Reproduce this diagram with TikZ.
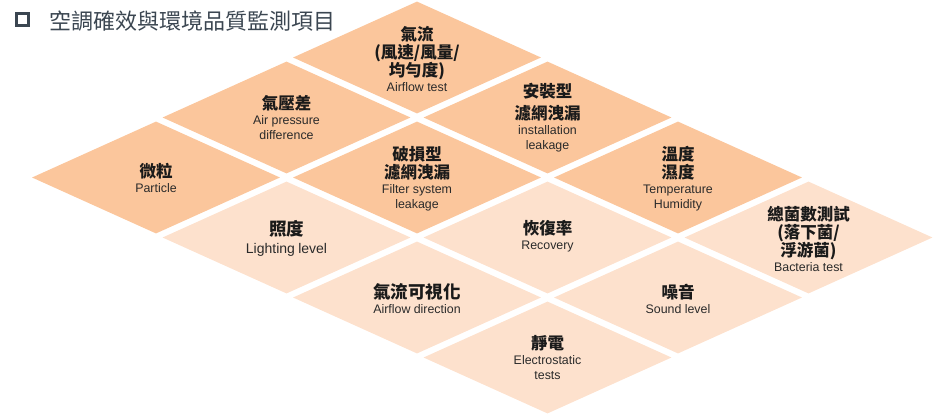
\documentclass[tikz,border=0pt]{standalone}
\usepackage{fontspec}
\setmainfont{Liberation Sans}
\newfontfamily\cjkf{Noto Sans CJK TC}
\definecolor{peachdark}{HTML}{FBC69C}
\definecolor{peachlight}{HTML}{FDE1CD}
\definecolor{titlegray}{HTML}{3B4651}
\definecolor{zhink}{HTML}{1A1A1A}
\definecolor{enink}{HTML}{2A2A2A}
\newcommand\zhl[1]{{\fontsize{16.5pt}{18pt}\selectfont\cjkf\bfseries\color{zhink}#1\par}}
\newcommand\zhbig[1]{{\fontsize{17.5pt}{19pt}\selectfont\cjkf\bfseries\color{zhink}#1\par}}
\newcommand\enl[1]{{\fontsize{12.4pt}{15pt}\selectfont\color{enink}#1\par}}
\newcommand\enbig[1]{{\fontsize{14pt}{18pt}\selectfont\color{enink}#1\par}}
\usetikzlibrary{shapes.geometric}
\tikzset{
  tile/.style={shape=diamond, minimum width=248pt, minimum height=112pt, inner sep=0pt, draw=none},
  darktile/.style={tile, fill=peachdark},
  lighttile/.style={tile, fill=peachlight},
  tiletext/.style={text width=230pt, align=center, inner sep=0pt},
}
\begin{document}
\begin{tikzpicture}[x=1pt,y=-1pt]
\useasboundingbox (0,0) rectangle (933,413);
% title
\node[draw=titlegray, line width=3pt, minimum size=12pt, inner sep=0pt] (box) at (22.5,19.5) {};
\node[anchor=west, inner sep=0pt, text=titlegray, font=\fontsize{22pt}{24pt}\selectfont\cjkf] (title) at (49,21) {空調確效與環境品質監測項目};
% tiles
\node[darktile] (d1) at (156,177.5) {};
\node[darktile] (d2) at (286.5,117.5) {};
\node[darktile] (d3) at (417,57.5) {};
\node[darktile] (d4) at (417,177.5) {};
\node[darktile] (d5) at (547.5,117.5) {};
\node[darktile] (d6) at (678,177.5) {};
\node[lighttile] (l1) at (286.5,237.5) {};
\node[lighttile] (l2) at (547.5,237.5) {};
\node[lighttile] (l3) at (808.5,237.5) {};
\node[lighttile] (l4) at (417,297.5) {};
\node[lighttile] (l5) at (678,297.5) {};
\node[lighttile] (l6) at (547.5,357.5) {};
% texts
\node[tiletext] (t1) at (d1.center) {\zhl{微粒}\enl{Particle}};
\node[tiletext] (t2) at (d2.center) {\zhl{氣壓差}\enl{Air pressure}\enl{difference}};
\node[tiletext] (t3) at ([yshift=-1pt]d3.center) {\zhl{氣流}\zhl{(風速/風量/}\zhl{均勻度)}\enl{Airflow test}};
\node[tiletext] (t4) at ([yshift=-1pt]d4.center) {\zhl{破損型}\zhl{濾網洩漏}\enl{Filter system}\enl{leakage}};
\node[tiletext] (t5) at (d5.center) {\zhl{安裝型}\vspace{4.5pt}\zhl{濾網洩漏}\enl{installation}\enl{leakage}};
\node[tiletext] (t6) at ([yshift=-1pt]d6.center) {\zhl{溫度}\zhl{濕度}\enl{Temperature}\enl{Humidity}};
\node[tiletext] (t7) at ([yshift=-1pt]l1.center) {\zhbig{照度}\enbig{Lighting level}};
\node[tiletext] (t8) at ([yshift=1pt]l2.center) {\zhl{恢復率}\enl{Recovery}};
\node[tiletext] (t9) at ([yshift=-1pt]l3.center) {\zhl{總菌數測試}\zhl{(落下菌/}\zhl{浮游菌)}\enl{Bacteria test}};
\node[tiletext] (t10) at ([yshift=-1pt]l4.center) {\zhbig{氣流可視化}\enl{Airflow direction}};
\node[tiletext] (t11) at ([yshift=-1pt]l5.center) {\zhl{噪音}\enl{Sound level}};
\node[tiletext] (t12) at (l6.center) {\zhl{靜電}\enl{Electrostatic}\enl{tests}};
\end{tikzpicture}
\end{document}
